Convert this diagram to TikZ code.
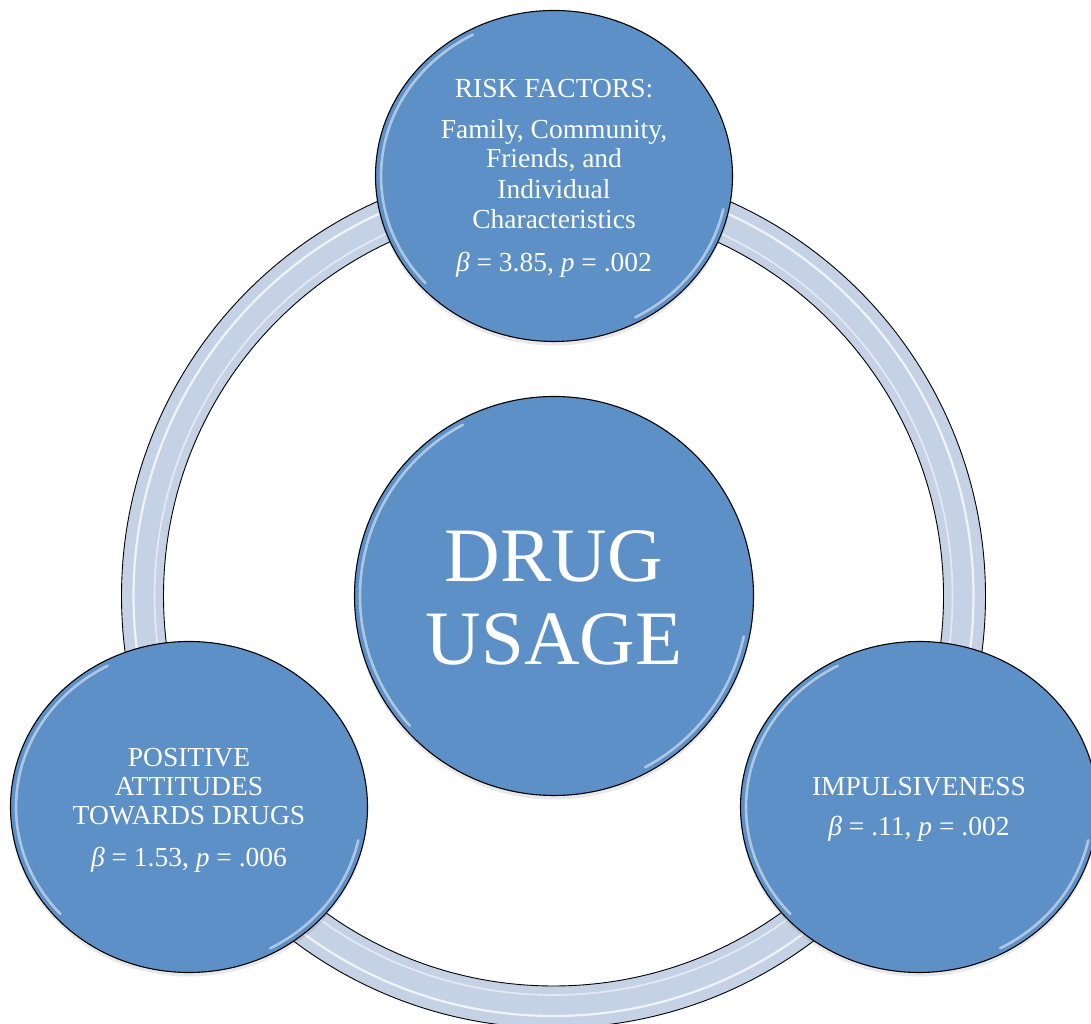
\documentclass[tikz,border=0pt]{standalone}
\usepackage{fontspec}
\setmainfont{Liberation Serif}
\usetikzlibrary{shapes.geometric,shadows}
\definecolor{bubblefill}{RGB}{92,144,198}
\definecolor{ringfill}{RGB}{197,210,229}
\tikzset{
  bubble/.style={draw=black, line width=1.1pt, fill=bubblefill, inner sep=0pt,
    drop shadow={opacity=0.18, shadow xshift=0pt, shadow yshift=-4pt}},
  smallbubble/.style={bubble, ellipse, minimum width=357pt, minimum height=331pt},
  hubbubble/.style={bubble, circle, minimum size=399pt},
  hl/.style={white, line width=2.6pt, opacity=0.5, line cap=round},
  ringedge/.style={black, line width=0.9pt},
  ringhl/.style={white, line width=2.2pt, opacity=0.75},
  lbl/.style={text=white, inner sep=0pt, anchor=base, font=\fontsize{27.5}{33}\selectfont},
  biglbl/.style={text=white, inner sep=0pt, anchor=base, font=\fontsize{77}{83}\selectfont}
}
\begin{document}
\begin{tikzpicture}[x=1pt,y=1pt]
\useasboundingbox (0,0) rectangle (1091,1024);
\fill[white] (0,0) rectangle (1091,1024);
\clip (0,0) rectangle (1091,1024);
% ring
\coordinate (ring) at (553.5,428);
\fill[ringfill, even odd rule] (ring) circle[radius=432pt] (ring) circle[radius=390pt];
\draw[ringhl] (ring) circle[radius=420pt];
\draw[white, line width=1.6pt, opacity=0.55] (ring) circle[radius=399pt];
\draw[ringedge] (ring) circle[radius=432pt];
\draw[ringedge] (ring) circle[radius=390pt];
% circles
\node[smallbubble] (top) at (554,848) {};
\node[smallbubble] (left) at (189,217) {};
\node[smallbubble] (right) at (919,217) {};
\node[hubbubble] (hub) at (554,428) {};
% highlights
\foreach \n in {top,left,right}{
  \draw[hl] ([shift={(118:173pt and 160pt)}]\n.center) arc[start angle=118, end angle=222, x radius=173pt, y radius=160pt];
  \draw[hl] ([shift={(-62:173pt and 160pt)}]\n.center) arc[start angle=-62, end angle=-12, x radius=173pt, y radius=160pt];
}
\draw[hl] ([shift={(118:194pt)}]hub.center) arc[start angle=118, end angle=222, radius=194pt];
\draw[hl] ([shift={(-62:194pt)}]hub.center) arc[start angle=-62, end angle=-12, radius=194pt];
% texts top
\node[lbl] (t1) at (554,926) {RISK FACTORS:};
\node[lbl] (t2) at (554,885) {Family, Community,};
\node[lbl] (t3) at (554,856) {Friends, and};
\node[lbl] (t4) at (554,825) {Individual};
\node[lbl] (t5) at (554,795) {Characteristics};
\node[lbl] (t6) at (554,752) {\textit{β} = 3.85, \textit{p} = .002};
% hub
\node[biglbl] (h1) at (554,442) {DRUG};
\node[biglbl] (h2) at (554,359) {USAGE};
% left
\node[lbl] (l1) at (189,257) {POSITIVE};
\node[lbl] (l2) at (189,228) {ATTITUDES};
\node[lbl] (l3) at (189,199) {TOWARDS DRUGS};
\node[lbl] (l4) at (189,157) {\textit{β} = 1.53, \textit{p} = .006};
% right
\node[lbl] (r1) at (919,228) {IMPULSIVENESS};
\node[lbl] (r2) at (919,188) {\textit{β} = .11, \textit{p} = .002};
\end{tikzpicture}
\end{document}
